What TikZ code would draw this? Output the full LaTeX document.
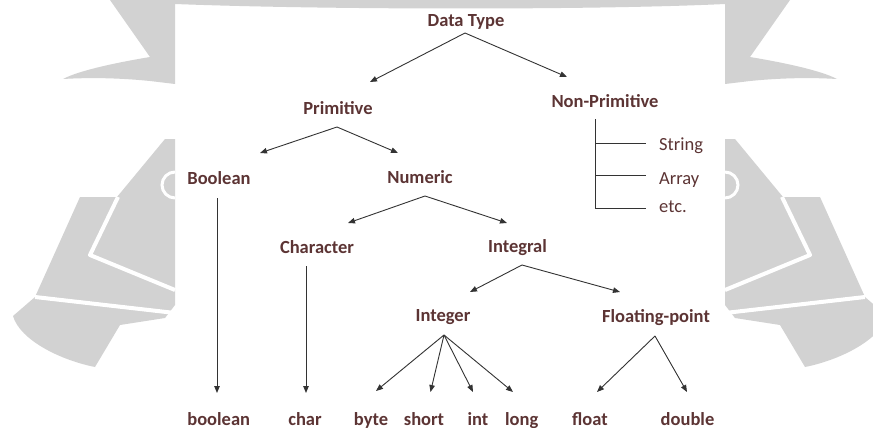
\documentclass[tikz,border=0pt]{standalone}
\usepackage{fontspec}
\setmainfont{Carlito}
\usetikzlibrary{arrows.meta}
\definecolor{txt}{RGB}{92,52,52}
\definecolor{wm}{RGB}{210,210,210}
\begin{document}
\begin{tikzpicture}[x=1pt,y=-1pt,
  lbl/.style={text=txt, font=\fontsize{18.5}{20}\selectfont\bfseries, inner sep=0pt, anchor=base},
  sub/.style={text=txt, font=\fontsize{18.5}{20}\selectfont, inner sep=0pt, anchor=base west},
  conn/.style={draw=black!80, line width=0.9pt},
  arr/.style={conn, -{Triangle[length=7pt,width=5.5pt]}}]
\useasboundingbox (0,0) rectangle (873,428);
\fill[white] (0,0) rectangle (873,428);
% watermark
\begin{scope}
\clip (0,0) rectangle (873,428);
\fill[wm] (175,0) -- (725,0) -- (725,4) .. controls (600,10) and (330,10) .. (175,4) -- cycle;
\foreach \s/\o in {1/0,-1/900} {
\begin{scope}[shift={(\o,0)},xscale=\s]
 \fill[wm] (110,0) -- (175,0) -- (175,84) -- (150,81) .. controls (110,77) and (80,78) .. (63,79) .. controls (80,70) and (120,62) .. (150,57) -- cycle;
 \fill[wm] (165,139) -- (175,139) -- (175,305) -- (165,318) -- (120,325) -- (95,367) .. controls (60,360) and (20,340) .. (13,316) -- (35,297) -- (80,197) -- (117,197) -- cycle;
 \draw[white, line width=4pt, line join=round] (118,197) -- (90,255) -- (175,290);
 \draw[white, line width=4pt] (35,297) -- (175,313);
 \draw[white, line width=3pt] (175,172) arc[start angle=-90,end angle=-270,radius=13];
\end{scope}
}
\end{scope}
% nodes
\node[lbl] (dt) at (466,27) {Data Type};
\node[lbl] (prim) at (338,114) {Primitive};
\node[lbl] (nonp) at (605,107.5) {Non-Primitive};
\node[lbl] (bool) at (219,184) {Boolean};
\node[lbl] (num) at (420,183.5) {Numeric};
\node[lbl] (char) at (317,253) {Character};
\node[lbl] (integral) at (517.5,252.5) {Integral};
\node[lbl] (integer) at (443,321.5) {Integer};
\node[lbl] (fp) at (656,322) {Floating-point};
\node[lbl] (lboolean) at (218.7,425) {boolean};
\node[lbl] (lchar) at (305,425) {char};
\node[lbl] (lbyte) at (371,425) {byte};
\node[lbl] (lshort) at (424,425) {short};
\node[lbl] (lint) at (478,425) {int};
\node[lbl] (llong) at (521.7,425) {long};
\node[lbl] (lfloat) at (590,425) {float};
\node[lbl] (ldouble) at (687.5,425) {double};
\node[sub] (sstring) at (659,150) {String};
\node[sub] (sarray) at (659,184) {Array};
\node[sub] (setc) at (659,212) {etc.};
% connector points
\coordinate (dtA) at (465,33);
\coordinate (primT) at (370,82);
\coordinate (nonpT) at (567,77);
\coordinate (primA) at (337,127);
\coordinate (boolT) at (260,153);
\coordinate (numT) at (398,153);
\coordinate (numA) at (425,196);
\coordinate (charT) at (348,223);
\coordinate (integralT) at (507,223);
\coordinate (boolS) at (217,198);
\coordinate (booleanT) at (217,393);
\coordinate (charS) at (306,266);
\coordinate (lcharT) at (306,393);
\coordinate (integralA) at (522,265);
\coordinate (integerT) at (470,292);
\coordinate (fpT) at (620,292);
\coordinate (integerA) at (444,335);
\coordinate (byteT) at (376,391);
\coordinate (shortT) at (430.5,392);
\coordinate (intT) at (473,392);
\coordinate (longT) at (513,392);
\coordinate (fpA) at (655,336);
\coordinate (floatT) at (597,392);
\coordinate (doubleT) at (687,392);
\coordinate (npTop) at (595,119);
\coordinate (np1) at (595,143.3);
\coordinate (np2) at (595,175.7);
\coordinate (np3) at (595,208.3);
\coordinate (np1e) at (646,143.3);
\coordinate (np2e) at (646,175.7);
\coordinate (np3e) at (646,208.3);
% connectors
\draw[arr] (dtA) -- (primT);
\draw[arr] (dtA) -- (nonpT);
\draw[arr] (primA) -- (boolT);
\draw[arr] (primA) -- (numT);
\draw[arr] (numA) -- (charT);
\draw[arr] (numA) -- (integralT);
\draw[arr] (boolS) -- (booleanT);
\draw[arr] (charS) -- (lcharT);
\draw[arr] (integralA) -- (integerT);
\draw[arr] (integralA) -- (fpT);
\draw[arr] (integerA) -- (byteT);
\draw[arr] (integerA) -- (shortT);
\draw[arr] (integerA) -- (intT);
\draw[arr] (integerA) -- (longT);
\draw[arr] (fpA) -- (floatT);
\draw[arr] (fpA) -- (doubleT);
\draw[conn] (npTop) -- (np3) -- (np3e);
\draw[conn] (np1) -- (np1e);
\draw[conn] (np2) -- (np2e);
\end{tikzpicture}
\end{document}
